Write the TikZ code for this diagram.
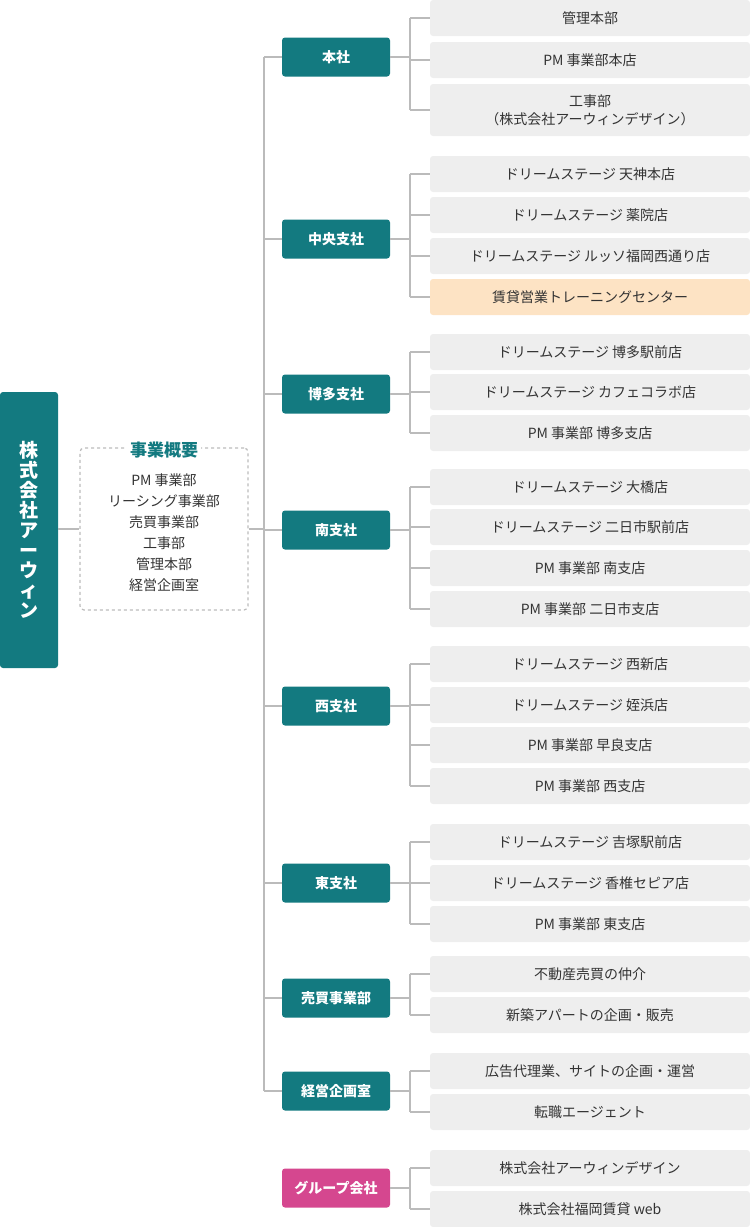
\documentclass[tikz,border=0pt]{standalone}
\usepackage{fontspec}
\setmainfont{Noto Sans CJK JP}
\definecolor{teal1}{HTML}{137A80}
\definecolor{pink1}{HTML}{D5478F}
\definecolor{gbox}{HTML}{EEEEEE}
\definecolor{obox}{HTML}{FDE3C4}
\definecolor{ln}{HTML}{BBBBBB}
\definecolor{tx}{HTML}{333333}
\begin{document}
\begin{tikzpicture}[x=1pt,y=-1pt,
 br/.style={fill=teal1,text=white,rounded corners=3pt,minimum width=108pt,minimum height=39pt,font=\fontsize{14}{16}\selectfont\bfseries,inner sep=0},
 it/.style={fill=gbox,text=tx,rounded corners=3pt,minimum width=320pt,minimum height=36pt,font=\fontsize{14}{18}\selectfont,inner sep=0,align=center},
 con/.style={draw=ln,line width=1.2pt}]
\useasboundingbox (0,0) rectangle (750,1227);
\node[fill=teal1,rounded corners=3pt,minimum width=58pt,minimum height=276pt,inner sep=0] (root) at (29,530) {};
\node[text=white,font=\fontsize{19}{20}\selectfont\bfseries,align=center] at (root.center) {株\\式\\会\\社\\ア\\ー\\ウ\\ィ\\ン};
\node[draw=ln,dashed,line width=1.2pt,rounded corners=4pt,minimum width=168pt,minimum height=162pt,inner sep=0] (ov) at (164,529) {};
\node[fill=white,text=teal1,font=\fontsize{17}{18}\selectfont\bfseries,inner sep=3pt] at (164,450) {事業概要};
\node[text=tx,font=\fontsize{14}{21}\selectfont,align=center] at (164,533) {PM 事業部\\リーシング事業部\\売買事業部\\工事部\\管理本部\\経営企画室};
\draw[con] (root.east|-ov) -- (ov.west);
\coordinate (mtop) at (264,57);
\coordinate (mbot) at (264,1091);
\draw[con] (mtop) -- (mbot);
\draw[con] (ov.east) -- (264,529);
% branches
\foreach \n/\t/\y in {b1/本社/57,b2/中央支社/239,b3/博多支社/394,b4/南支社/530,b5/西支社/706,b6/東支社/883,b7/売買事業部/998,b8/経営企画室/1091}{
 \node[br] (\n) at (336,\y) {\t};
 \draw[con] (264,\y) -- (\n.west);
}
\node[br,fill=pink1] (b9) at (336,1188) {グループ会社};
% items
\newcommand{\itm}[3]{\node[it] (#1) at (590,#2) {#3};}
\itm{i11}{18}{管理本部}
\itm{i12}{60}{PM 事業部本店}
\node[it,minimum height=52pt] (i13) at (590,110) {工事部\\（株式会社アーウィンデザイン）};
\itm{i21}{174}{ドリームステージ 天神本店}
\itm{i22}{215}{ドリームステージ 薬院店}
\itm{i23}{256}{ドリームステージ ルッソ福岡西通り店}
\node[it,fill=obox] (i24) at (590,297) {賃貸営業トレーニングセンター};
\itm{i31}{352}{ドリームステージ 博多駅前店}
\itm{i32}{392}{ドリームステージ カフェコラボ店}
\itm{i33}{433}{PM 事業部 博多支店}
\itm{i41}{487}{ドリームステージ 大橋店}
\itm{i42}{527}{ドリームステージ 二日市駅前店}
\itm{i43}{568}{PM 事業部 南支店}
\itm{i44}{609}{PM 事業部 二日市支店}
\itm{i51}{664}{ドリームステージ 西新店}
\itm{i52}{705}{ドリームステージ 姪浜店}
\itm{i53}{745}{PM 事業部 早良支店}
\itm{i54}{786}{PM 事業部 西支店}
\itm{i61}{842}{ドリームステージ 吉塚駅前店}
\itm{i62}{883}{ドリームステージ 香椎セピア店}
\itm{i63}{924}{PM 事業部 東支店}
\itm{i71}{974}{不動産売買の仲介}
\itm{i72}{1015}{新築アパートの企画・販売}
\itm{i81}{1071}{広告代理業、サイトの企画・運営}
\itm{i82}{1112}{転職エージェント}
\itm{i91}{1168}{株式会社アーウィンデザイン}
\itm{i92}{1209}{株式会社福岡賃貸 web}
\foreach \b/\first/\last/\list in {b1/i11/i13/{i11,i12,i13},b2/i21/i24/{i21,i22,i23,i24},b3/i31/i33/{i31,i32,i33},b4/i41/i44/{i41,i42,i43,i44},b5/i51/i54/{i51,i52,i53,i54},b6/i61/i63/{i61,i62,i63},b7/i71/i72/{i71,i72},b8/i81/i82/{i81,i82},b9/i91/i92/{i91,i92}}{
 \draw[con] (410,0|-\first.west) -- (410,0|-\last.west);
 \draw[con] (\b.east) -- (410,0|-\b.east);
 \foreach \i in \list {\draw[con] (410,0|-\i.west) -- (\i.west);}
}
\end{tikzpicture}
\end{document}
